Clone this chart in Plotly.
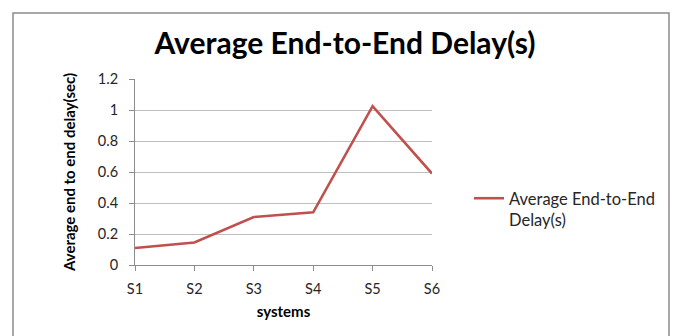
import plotly.graph_objects as go

# Average end-to-end delay per system
systems = ["S1", "S2", "S3", "S4", "S5", "S6"]
delay_sec = [0.11, 0.145, 0.31, 0.34, 1.025, 0.59]
y_ticks = [0, 0.2, 0.4, 0.6, 0.8, 1, 1.2]
y_tick_text = ["0", "0.2", "0.4", "0.6", "0.8", "1", "1.2"]

FONT = "Lato, Calibri, Carlito, sans-serif"
LINE_RED = "#c0504d"
GRID = "#bfbfbf"
AXIS = "#8c8c8c"

fig = go.Figure()
fig.add_trace(go.Scatter(
    x=systems, y=delay_sec, mode="lines",
    name="Average End-to-End<br>Delay(s)",
    line=dict(color=LINE_RED, width=2.6),
))

# plot area in pixels: left 135, right 432, top 79, bottom 265
L, R, T, B = 135, 432, 79, 265
W, H = 681, 336
pw, ph = R - L, B - T

def px(x):
    return (x - L) / pw

def py(y):
    return (B - y) / ph

fig.update_layout(
    width=W, height=H,
    margin=dict(l=L, r=W - R, t=T, b=H - B, pad=0),
    paper_bgcolor="white", plot_bgcolor="white",
    font=dict(family=FONT, size=14, color="#262626"),
    title=dict(
        text="<b>Average End-to-End Delay(s)</b>",
        font=dict(family=FONT, size=30, color="#000000"),
        x=345 / W, xanchor="center", xref="container",
        y=1 - 43 / H, yanchor="middle", yref="container",
    ),
    xaxis=dict(
        type="category", range=[0, 5],
        showgrid=False, showline=True, linecolor=AXIS, linewidth=1,
        ticks="outside", ticklen=5, tickcolor=AXIS,
        ticklabelstandoff=6,
        tickfont=dict(size=14.5, color="#262626"),
        title=dict(text="<b>systems</b>", font=dict(size=15, color="#000000"), standoff=10),
        zeroline=False,
    ),
    yaxis=dict(
        range=[0, 1.2], tickvals=y_ticks, ticktext=y_tick_text,
        showgrid=True, gridcolor=GRID, gridwidth=1,
        showline=True, linecolor=AXIS, linewidth=1,
        ticks="outside", ticklen=5, tickcolor=AXIS,
        ticklabelstandoff=8,
        tickfont=dict(size=14.5, color="#262626"),
        title=dict(text="<b>Average end to end delay(sec)</b>",
                   font=dict(size=15, color="#000000"), standoff=18),
        zeroline=False,
    ),
    showlegend=True,
    legend=dict(
        x=px(469), y=py(181), xanchor="left", yanchor="top",
        font=dict(size=16.5, color="#262626"),
        bgcolor="rgba(0,0,0,0)", valign="top",
        itemwidth=30,
    ),
    shapes=[
        # outer chart frame
        dict(type="rect", xref="paper", yref="paper",
             x0=px(13), x1=px(669), y0=py(345), y1=py(13),
             line=dict(color="#8c8c8c", width=1.5), fillcolor="rgba(0,0,0,0)",
             layer="below"),
    ],
)

fig.write_html("out.html")
